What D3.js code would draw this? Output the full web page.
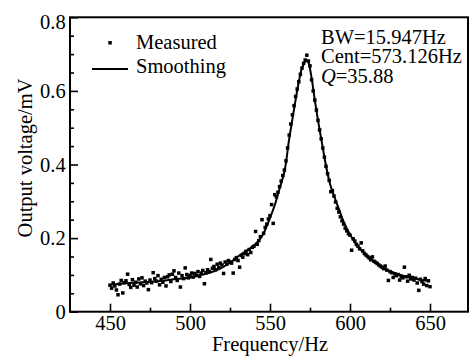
<!DOCTYPE html>
<html><head><meta charset="utf-8">
<script src="https://cdn.jsdelivr.net/npm/d3@7/dist/d3.min.js"></script>
<style>
body{margin:0;background:#fff;}
svg{display:block;}
svg text{font-family:"Liberation Serif","Times New Roman",serif !important;fill:#000;}
</style></head>
<body>
<svg id="chart" width="475" height="356"></svg>
<script>
// Measured data: frequency 450..650 Hz step 1
const measuredStart = 450;
const measuredStep = 1;
const measuredValues = [
 0.072,0.064,0.078,0.070,0.059,0.046,0.075,0.085,0.051,0.079,
 0.084,0.102,0.074,0.066,0.087,0.072,0.080,0.067,0.089,0.076,
 0.092,0.071,0.083,0.078,0.060,0.086,0.079,0.106,0.090,0.083,
 0.098,0.073,0.088,0.080,0.093,0.070,0.095,0.100,0.082,0.102,
 0.111,0.093,0.085,0.105,0.067,0.098,0.090,0.119,0.101,0.092,
 0.098,0.105,0.094,0.104,0.099,0.109,0.096,0.105,0.112,0.076,
 0.106,0.114,0.109,0.142,0.118,0.123,0.114,0.129,0.120,0.132,
 0.127,0.104,0.135,0.129,0.139,0.135,0.132,0.105,0.142,0.147,
 0.139,0.121,0.153,0.148,0.158,0.164,0.155,0.169,0.161,0.175,
 0.178,0.218,0.183,0.193,0.204,0.250,0.213,0.229,0.238,0.252,
 0.261,0.291,0.240,0.318,0.312,0.325,0.340,0.355,0.370,0.385,
 0.410,0.445,0.480,0.510,0.535,0.560,0.585,0.605,0.625,0.645,
 0.662,0.675,0.684,0.697,0.681,0.668,0.630,0.600,0.575,0.548,
 0.520,0.494,0.470,0.445,0.420,0.395,0.375,0.357,0.326,0.329,
 0.314,0.298,0.281,0.271,0.258,0.247,0.238,0.227,0.220,0.212,
 0.208,0.167,0.198,0.192,0.183,0.178,0.171,0.187,0.165,0.158,
 0.154,0.150,0.146,0.141,0.149,0.137,0.134,0.131,0.127,0.124,
 0.121,0.117,0.124,0.113,0.085,0.109,0.106,0.093,0.103,0.098,
 0.101,0.086,0.096,0.092,0.121,0.095,0.083,0.099,0.089,0.093,
 0.086,0.091,0.078,0.058,0.088,0.082,0.075,0.090,0.071,0.084,
 0.068
];
// Smoothing curve
const smoothFreq = [450,460,470,480,490,500,510,515,520,525,530,535,540,545,550,553,556,559,562,565,568,570,572,573,574,576,578,580,582,584,586,588,590,593,596,600,605,610,615,620,625,630,635,640,645,650];
const smoothValues = [0.073,0.077,0.080,0.083,0.088,0.093,0.103,0.110,0.120,0.133,0.150,0.165,0.180,0.205,0.255,0.290,0.335,0.380,0.470,0.550,0.625,0.662,0.680,0.683,0.678,0.635,0.575,0.520,0.470,0.420,0.375,0.340,0.315,0.280,0.245,0.210,0.177,0.155,0.137,0.122,0.110,0.102,0.095,0.090,0.086,0.083];

const xTicks = [450,500,550,600,650];
const xMinorTicks = [475,525,575,625];
const yTicks = [0,0.2,0.4,0.6,0.8];
const yMinorTicks = [0.05,0.1,0.15,0.25,0.3,0.35,0.45,0.5,0.55,0.65,0.7,0.75];
const legendLabels = ["Measured","Smoothing"];
const annotationLines = ["BW=15.947Hz","Cent=573.126Hz","=35.88"];
const xTitle = "Frequency/Hz";
const yTitle = "Output voltage/mV";

const svg = d3.select("#chart");
const L=70, R=468, T=17.3, B=311.7;
const x = d3.scaleLinear().domain([425,673.75]).range([L,R]);
const y = d3.scaleLinear().domain([0,0.8]).range([B,T]);
const FS = "20.5px";
const FF = "Liberation Serif";

const measured = measuredValues.map((v,i)=>({f:measuredStart+i*measuredStep, v}));
const smooth = smoothFreq.map((f,i)=>({f, v:smoothValues[i]}));

// smoothing line
svg.append("path").datum(smooth)
 .attr("fill","none").attr("stroke","#000").attr("stroke-width",2)
 .attr("d", d3.line().x(d=>x(d.f)).y(d=>y(d.v)).curve(d3.curveCatmullRom.alpha(0.5)));

// points
svg.append("g").selectAll("rect").data(measured).join("rect")
 .attr("x",d=>x(d.f)-1.75).attr("y",d=>y(d.v)-1.75)
 .attr("width",3.5).attr("height",3.5).attr("fill","#000");

// frame
svg.append("rect").attr("x",L).attr("y",T).attr("width",R-L).attr("height",B-T)
 .attr("fill","none").attr("stroke","#000").attr("stroke-width",2);

// x axis
const gx = svg.append("g").attr("transform",`translate(0,${B})`)
 .call(d3.axisBottom(x).tickValues(xTicks).tickSize(-8).tickPadding(4).tickFormat(d3.format("d")));
gx.attr("font-family",FF);
gx.select(".domain").remove();
gx.selectAll("line").attr("stroke-width",1.6);
gx.selectAll("text").attr("font-size",FS).style("font-family",FF).attr("y",18.4).attr("dy",0);
const gxm = svg.append("g").attr("transform",`translate(0,${B})`)
 .call(d3.axisBottom(x).tickValues(xMinorTicks).tickSize(-4).tickFormat(""));
gxm.select(".domain").remove();
gxm.selectAll("line").attr("stroke-width",1.6);

// y axis
const gy = svg.append("g").attr("transform",`translate(${L},0)`)
 .call(d3.axisLeft(y).tickValues(yTicks).tickSize(-8).tickPadding(4.3).tickFormat(d=>d===0?"0":d3.format(".1f")(d)));
gy.attr("font-family",FF);
gy.select(".domain").remove();
gy.selectAll("line").attr("stroke-width",1.6);
gy.selectAll("text").attr("font-size",FS).style("font-family",FF)
 .attr("dy",d=>d===0.8?"0.55em":"0.33em");
const gym = svg.append("g").attr("transform",`translate(${L},0)`)
 .call(d3.axisLeft(y).tickValues(yMinorTicks).tickSize(-4).tickFormat(""));
gym.select(".domain").remove();
gym.selectAll("line").attr("stroke-width",1.6);

// titles
svg.append("text").attr("x",270).attr("y",351).attr("text-anchor","middle")
 .attr("font-size",FS).style("font-family",FF).text(xTitle);
svg.append("text").attr("transform","translate(31.5,158) rotate(-90)").attr("text-anchor","middle")
 .attr("font-size",FS).style("font-family",FF).text(yTitle);

// legend
svg.append("rect").attr("x",108.3).attr("y",41).attr("width",3.5).attr("height",3.5).attr("fill","#000");
svg.append("text").attr("x",136).attr("y",49.3).attr("font-size",FS).style("font-family",FF).text(legendLabels[0]);
svg.append("line").attr("x1",92).attr("x2",128).attr("y1",69).attr("y2",69).attr("stroke","#000").attr("stroke-width",1.8);
svg.append("text").attr("x",136).attr("y",72.7).attr("font-size",FS).style("font-family",FF).text(legendLabels[1]);

// annotation
svg.append("text").attr("x",321).attr("y",44.3).attr("font-size",FS).style("font-family",FF).text(annotationLines[0]);
svg.append("text").attr("x",321).attr("y",63.3).attr("font-size",FS).style("font-family",FF).text(annotationLines[1]);
const q = svg.append("text").attr("x",321).attr("y",82.5).attr("font-size",FS).style("font-family",FF);
q.append("tspan").attr("font-style","italic").text("Q");
q.append("tspan").text(annotationLines[2]);
</script>
</body></html>
